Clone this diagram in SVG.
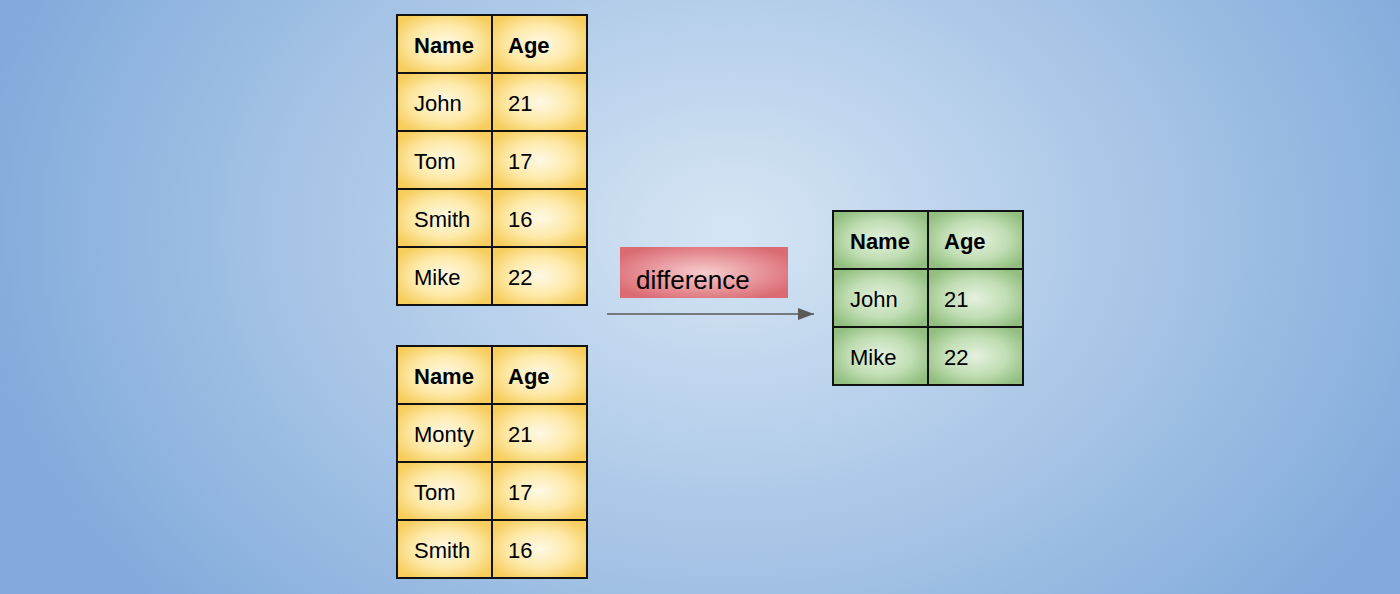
<svg xmlns="http://www.w3.org/2000/svg" width="1400" height="594" viewBox="0 0 1400 594">
  <defs>
    <radialGradient id="bg" gradientUnits="userSpaceOnUse" cx="730" cy="230" r="760" gradientTransform="translate(730 230) scale(1 0.75) translate(-730 -230)">
      <stop offset="0" stop-color="#d6e5f4"/>
      <stop offset="1" stop-color="#82abdb"/>
    </radialGradient>
    <radialGradient id="yel" cx="0.5" cy="0.5" r="0.6">
      <stop offset="0" stop-color="#fff9e6"/>
      <stop offset="0.55" stop-color="#fde9a8"/>
      <stop offset="1" stop-color="#f7cd5c"/>
    </radialGradient>
    <radialGradient id="grn" cx="0.5" cy="0.5" r="0.6">
      <stop offset="0" stop-color="#e4f1de"/>
      <stop offset="0.55" stop-color="#c1deb4"/>
      <stop offset="1" stop-color="#92bf80"/>
    </radialGradient>
    <radialGradient id="red" cx="0.5" cy="0.5" r="0.6">
      <stop offset="0" stop-color="#f6cccd"/>
      <stop offset="1" stop-color="#db6a72"/>
    </radialGradient>
    <marker id="arr" viewBox="0 0 16 12" refX="16" refY="6" markerWidth="16" markerHeight="12" markerUnits="userSpaceOnUse" orient="auto">
      <path d="M0,0 L16,6 L0,12 z" fill="#595959"/>
    </marker>
    <style>
      .y { fill: url(#yel); stroke: #111; stroke-width: 2; }
      .g { fill: url(#grn); stroke: #111; stroke-width: 2; }
      text { font-family: "Liberation Sans", Arial, sans-serif; font-size: 22px; fill: #000; }
      .h { font-weight: bold; }
    </style>
  </defs>
  <rect x="0" y="0" width="1400" height="594" fill="url(#bg)"/>

  <g id="table-top">
    <rect class="y" x="397" y="15" width="95" height="58"/>
    <rect class="y" x="492" y="15" width="95" height="58"/>
    <rect class="y" x="397" y="73" width="95" height="58"/>
    <rect class="y" x="492" y="73" width="95" height="58"/>
    <rect class="y" x="397" y="131" width="95" height="58"/>
    <rect class="y" x="492" y="131" width="95" height="58"/>
    <rect class="y" x="397" y="189" width="95" height="58"/>
    <rect class="y" x="492" y="189" width="95" height="58"/>
    <rect class="y" x="397" y="247" width="95" height="58"/>
    <rect class="y" x="492" y="247" width="95" height="58"/>
    <text class="h" x="414" y="53">Name</text>
    <text class="h" x="508" y="53">Age</text>
    <text x="414" y="111">John</text>
    <text x="508" y="111">21</text>
    <text x="414" y="169">Tom</text>
    <text x="508" y="169">17</text>
    <text x="414" y="227">Smith</text>
    <text x="508" y="227">16</text>
    <text x="414" y="285">Mike</text>
    <text x="508" y="285">22</text>
  </g>

  <g id="table-bottom">
    <rect class="y" x="397" y="346" width="95" height="58"/>
    <rect class="y" x="492" y="346" width="95" height="58"/>
    <rect class="y" x="397" y="404" width="95" height="58"/>
    <rect class="y" x="492" y="404" width="95" height="58"/>
    <rect class="y" x="397" y="462" width="95" height="58"/>
    <rect class="y" x="492" y="462" width="95" height="58"/>
    <rect class="y" x="397" y="520" width="95" height="58"/>
    <rect class="y" x="492" y="520" width="95" height="58"/>
    <text class="h" x="414" y="384">Name</text>
    <text class="h" x="508" y="384">Age</text>
    <text x="414" y="442">Monty</text>
    <text x="508" y="442">21</text>
    <text x="414" y="500">Tom</text>
    <text x="508" y="500">17</text>
    <text x="414" y="558">Smith</text>
    <text x="508" y="558">16</text>
  </g>

  <g id="label-difference">
    <rect x="620" y="247" width="168" height="51" fill="url(#red)"/>
    <text x="636" y="289" style="font-size:26px">difference</text>
  </g>

  <g id="table-result">
    <rect class="g" x="833" y="211" width="95" height="58"/>
    <rect class="g" x="928" y="211" width="95" height="58"/>
    <rect class="g" x="833" y="269" width="95" height="58"/>
    <rect class="g" x="928" y="269" width="95" height="58"/>
    <rect class="g" x="833" y="327" width="95" height="58"/>
    <rect class="g" x="928" y="327" width="95" height="58"/>
    <text class="h" x="850" y="249">Name</text>
    <text class="h" x="944" y="249">Age</text>
    <text x="850" y="307">John</text>
    <text x="944" y="307">21</text>
    <text x="850" y="365">Mike</text>
    <text x="944" y="365">22</text>
  </g>

  <g id="connectors">
    <line x1="607" y1="314" x2="814" y2="314" stroke="#595959" stroke-width="1.5" marker-end="url(#arr)"/>
  </g>
</svg>
